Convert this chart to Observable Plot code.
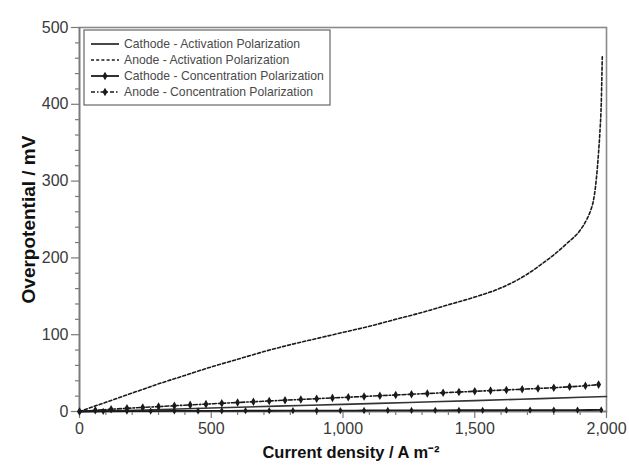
<!DOCTYPE html>
<html>
<head>
<meta charset="utf-8">
<script src="https://cdn.jsdelivr.net/npm/d3@7"></script>
<script src="https://cdn.jsdelivr.net/npm/@observablehq/plot@0.6"></script>
<style>
  html, body { margin: 0; padding: 0; background: #fff; }
  #chart { width: 629px; height: 465px; }
</style>
</head>
<body>
<div id="chart"></div>
<script>
// ---- data ----
const seriesNames = [
  "Cathode - Activation Polarization",
  "Anode - Activation Polarization",
  "Cathode - Concentration Polarization",
  "Anode - Concentration Polarization"
];

const cathodeActX = [0, 250, 500, 750, 1000, 1250, 1500, 1750, 2000];
const cathodeActY = [0, 2, 4.5, 7, 9.3, 11.8, 14.2, 16.8, 19.5];

const anodeActX = [0, 50, 100, 200, 300, 400, 500, 600, 700, 800, 900, 1000, 1100, 1200, 1300, 1400, 1500, 1600, 1700, 1750, 1800, 1850, 1900, 1925, 1940, 1950, 1960, 1965, 1970, 1975, 1980, 1984];
const anodeActY = [0, 6, 12, 24, 36, 47, 58, 68, 78, 87, 95, 103, 111, 120, 129, 139, 149, 161, 179, 191, 204, 219, 236, 250, 262, 274, 298, 316, 338, 364, 400, 462];

const cathodeConcX = [0, 90, 180, 270, 360, 450, 540, 630, 720, 810, 900, 990, 1080, 1170, 1260, 1350, 1440, 1530, 1620, 1710, 1800, 1890, 1980];
const cathodeConcY = [0, 0.3, 0.5, 0.6, 0.7, 0.8, 0.9, 1.0, 1.0, 1.1, 1.2, 1.2, 1.3, 1.4, 1.4, 1.5, 1.6, 1.6, 1.7, 1.8, 1.8, 1.9, 2.0];

const anodeConcX = [0, 60, 120, 180, 240, 300, 360, 420, 480, 540, 600, 660, 720, 780, 840, 900, 960, 1020, 1080, 1140, 1200, 1260, 1320, 1380, 1440, 1500, 1560, 1620, 1680, 1740, 1800, 1860, 1920, 1970];
const anodeConcY = [0, 1.6, 2.9, 4.1, 5.3, 6.4, 7.5, 8.6, 9.6, 10.7, 11.7, 12.7, 13.7, 14.7, 15.7, 16.7, 17.7, 18.6, 19.6, 20.6, 21.5, 22.5, 23.4, 24.4, 25.3, 26.3, 27.2, 28.1, 29.0, 30.0, 31.0, 32.2, 33.5, 35.0];

const xMajorTicks = [0, 500, 1000, 1500, 2000];
const yMajorTicks = [0, 100, 200, 300, 400, 500];
const xMinorTicks = [100, 200, 300, 400, 600, 700, 800, 900, 1100, 1200, 1300, 1400, 1600, 1700, 1800, 1900];
const yMinorTicks = [20, 40, 60, 80, 120, 140, 160, 180, 220, 240, 260, 280, 320, 340, 360, 380, 420, 440, 460, 480];

// ---- build tables ----
const zip = (xs, ys) => xs.map((x, i) => ({x, y: ys[i]}));
const cathodeAct = zip(cathodeActX, cathodeActY);
const anodeAct = zip(anodeActX, anodeActY);
const cathodeConc = zip(cathodeConcX, cathodeConcY);
const anodeConc = zip(anodeConcX, anodeConcY);

const ink = "#1a1a1a";
const axisGray = "#7a7a7a";
const fontFamily = "'Liberation Sans', Arial, sans-serif";
const anodeActDash = "3,2.2";
const anodeConcDash = "4,2,1.5,2";

const chart = Plot.plot({
  width: 629,
  height: 465,
  marginLeft: 79,
  marginRight: 23,
  marginTop: 27,
  marginBottom: 54,
  style: {fontFamily, background: "#fff", overflow: "visible"},
  x: {domain: [0, 2000]},
  y: {domain: [0, 500]},
  marks: [
    Plot.frame({stroke: "#8a8a8a", strokeWidth: 1.6}),
    // minor ticks
    Plot.axisX({ticks: xMinorTicks, tickSize: 4, tickFormat: () => "", stroke: axisGray, strokeWidth: 1.2, label: null}),
    Plot.axisY({ticks: yMinorTicks, tickSize: 4, tickFormat: () => "", stroke: axisGray, strokeWidth: 1.2, label: null}),
    // major ticks with labels
    Plot.axisX({ticks: xMajorTicks, tickSize: 7, tickPadding: 4, tickFormat: d3.format(","),
      stroke: axisGray, strokeWidth: 1.2, fill: "#3a3a3a", fontSize: 16,
      label: "Current density / A m\u207B\u00B2", labelAnchor: "center", labelArrow: "none", labelOffset: 46}),
    Plot.axisY({ticks: yMajorTicks, tickSize: 8, tickPadding: 3, tickFormat: d => d,
      stroke: axisGray, strokeWidth: 1.2, fill: "#3a3a3a", fontSize: 16,
      label: "Overpotential / mV", labelAnchor: "center", labelArrow: "none", labelOffset: 58}),
    Plot.ruleX([0], {stroke: axisGray, strokeWidth: 1.6}),
    Plot.ruleY([0], {stroke: axisGray, strokeWidth: 1.6}),
    // series
    Plot.line(cathodeAct, {x: "x", y: "y", stroke: "#333", strokeWidth: 1.6, curve: "monotone-x"}),
    Plot.line(anodeAct, {x: "x", y: "y", stroke: ink, strokeWidth: 1.6, strokeDasharray: anodeActDash, curve: "monotone-x"}),
    Plot.line(cathodeConc, {x: "x", y: "y", stroke: ink, strokeWidth: 1.8, curve: "monotone-x"}),
    Plot.dot(cathodeConc, {x: "x", y: "y", r: 2.2, fill: ink, stroke: "none", symbol: "diamond"}),
    Plot.line(anodeConc, {x: "x", y: "y", stroke: ink, strokeWidth: 1.6, strokeDasharray: anodeConcDash, curve: "monotone-x"}),
    Plot.dot(anodeConc, {x: "x", y: "y", r: 2.6, fill: ink, stroke: "none", symbol: "diamond"})
  ]
});

// style the axis titles
d3.select(chart).selectAll("g[aria-label='x-axis label'] text")
  .attr("font-weight", "bold").attr("font-size", 16.5).attr("fill", "#111").attr("dx", 8);
d3.select(chart).selectAll("g[aria-label='y-axis label'] text")
  .attr("font-weight", "bold").attr("font-size", 19).attr("fill", "#111");

// legend drawn inside the plotting area
const svg = d3.select(chart);
const lg = svg.append("g").attr("font-family", fontFamily).attr("text-anchor", "start");
const bx = 84, by = 30, bw = 246, bh = 75;
lg.append("rect").attr("x", bx).attr("y", by).attr("width", bw).attr("height", bh)
  .attr("fill", "#fff").attr("stroke", "#666").attr("stroke-width", 1.2);
const styles = [
  {dash: null, marker: false, w: 1.6},
  {dash: anodeActDash, marker: false, w: 1.6},
  {dash: null, marker: true, w: 1.8},
  {dash: anodeConcDash, marker: true, w: 1.6}
];
seriesNames.forEach((name, i) => {
  const yy = by + 14 + i * 16;
  const s = styles[i];
  const ln = lg.append("line").attr("x1", bx + 7).attr("x2", bx + 35).attr("y1", yy).attr("y2", yy)
    .attr("stroke", ink).attr("stroke-width", s.w);
  if (s.dash) ln.attr("stroke-dasharray", s.dash);
  if (s.marker) lg.append("path").attr("d", d3.symbol(d3.symbolDiamond, 22)())
    .attr("transform", `translate(${bx + 21},${yy})`).attr("fill", ink);
  lg.append("text").attr("x", bx + 40).attr("y", yy).attr("dy", "0.35em")
    .attr("font-size", 12.2).attr("fill", "#4a4a4a").text(name);
});

document.getElementById("chart").appendChild(chart);
</script>
</body>
</html>
